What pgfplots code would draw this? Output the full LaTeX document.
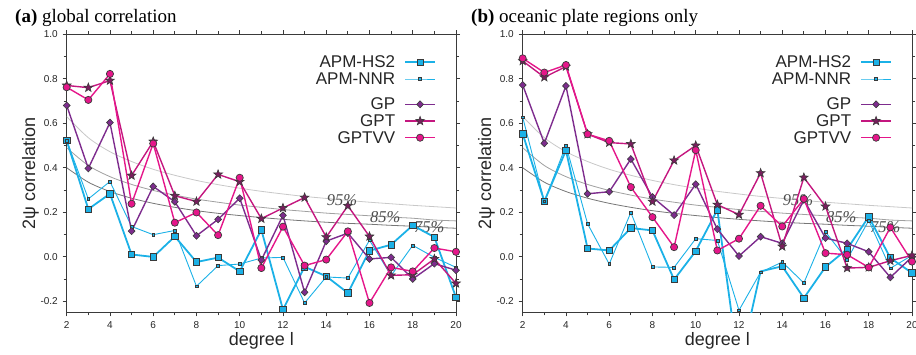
\documentclass[border=0pt]{standalone}
\usepackage{fontspec}
\setmainfont{Liberation Sans}
\newfontfamily\serif{Liberation Serif}
\usepackage{pgfplots}
\pgfplotsset{compat=1.18}
\usetikzlibrary{plotmarks}

\definecolor{cy}{HTML}{1BB1E7}
\definecolor{gpc}{HTML}{7E2C8E}
\definecolor{gptc}{HTML}{C4177F}
\definecolor{gptf}{HTML}{7A1D5E}
\definecolor{vvc}{HTML}{E5168A}
\definecolor{edge}{HTML}{3A3A3A}
\definecolor{g95}{HTML}{C8C8C8}
\definecolor{g85}{HTML}{A0A0A0}
\definecolor{g75}{HTML}{767676}

\pgfdeclareplotmark{fstar}{%
  \pgfpathmoveto{\pgfpointpolar{90}{\pgfplotmarksize}}%
  \pgfpathlineto{\pgfpointpolar{126}{0.42\pgfplotmarksize}}%
  \pgfpathlineto{\pgfpointpolar{162}{\pgfplotmarksize}}%
  \pgfpathlineto{\pgfpointpolar{198}{0.42\pgfplotmarksize}}%
  \pgfpathlineto{\pgfpointpolar{234}{\pgfplotmarksize}}%
  \pgfpathlineto{\pgfpointpolar{270}{0.42\pgfplotmarksize}}%
  \pgfpathlineto{\pgfpointpolar{306}{\pgfplotmarksize}}%
  \pgfpathlineto{\pgfpointpolar{342}{0.42\pgfplotmarksize}}%
  \pgfpathlineto{\pgfpointpolar{18}{\pgfplotmarksize}}%
  \pgfpathlineto{\pgfpointpolar{54}{0.42\pgfplotmarksize}}%
  \pgfpathclose
  \pgfusepathqfillstroke}

\tikzset{pct/.style={font=\serif\itshape\fontsize{16.5}{18}\selectfont, text=black!70}}

\pgfplotsset{
  panel/.style={
    scale only axis, width=389.3pt, height=278pt, anchor=south west,
    xmin=2, xmax=20, ymin=-0.25, ymax=1.0,
    xtick={2,4,...,20}, xticklabels={2,4,6,8,10,12,14,16,18,20},
    minor xtick={3,5,...,19},
    ytick={-0.2,0,0.2,0.4,0.6,0.8,1.0},
    yticklabels={-0.2,0.0,0.2,0.4,0.6,0.8,1.0},
    minor ytick={-0.1,0.1,0.3,0.5,0.7,0.9},
    tick align=outside, major tick length=4pt, minor tick length=3pt,
    tick style={edge, line width=0.8pt},
    axis line style={edge, line width=1pt},
    ticklabel style={font=\fontsize{10}{12}\selectfont, text=black!85},
    xticklabel style={anchor=north, inner sep=0pt, yshift=-5.4pt},
    yticklabel style={anchor=east, inner sep=0pt, xshift=-4.7pt},
    xlabel={degree l}, ylabel={2ψ correlation},
    label style={font=\fontsize{18}{20}\selectfont, text=black!85},
    xlabel style={at={(axis description cs:0.5,-0.121)}, anchor=base},
    ylabel style={at={(axis description cs:-0.0814,0.5)}, anchor=base},
    legend plot pos=right, legend cell align=right,
    legend style={at={(axis description cs:0.9486,0.9293)}, anchor=north east,
      draw=none, fill=none, inner sep=0pt, outer sep=0pt,
      font=\fontsize{17}{20}\selectfont, column sep=9pt, row sep=0pt,
      nodes={inner sep=0pt, text height=14pt, text depth=2.7pt, text=black!85}},
    legend image code/.code={\draw[mark repeat=2,mark phase=2,##1] plot coordinates {(0pt,0pt) (15pt,0pt) (30pt,0pt)};},
  },
  hs2/.style={cy, line width=1.8pt, mark=square*, mark size=3.2pt, mark options={draw=edge, fill=cy, line width=0.7pt}},
  nnr/.style={cy, line width=0.9pt, mark=square*, mark size=1.4pt, mark options={draw=edge, fill=cy, line width=0.5pt}},
  gp/.style={gpc, line width=1.4pt, mark=diamond*, mark size=3.5pt, mark options={draw=edge, fill=gpc, line width=0.6pt, xscale=1.3}},
  gpt/.style={gptc, line width=1.4pt, mark=fstar, mark size=4.6pt, mark options={draw=edge, fill=gptf, line width=0.6pt}},
  vv/.style={vvc, line width=1.4pt, mark=*, mark size=3.6pt, mark options={draw=edge, fill=vvc, line width=0.7pt}},
}

\newcommand{\sigcurves}{%
  \addplot[forget plot, smooth, g95, line width=0.8pt] coordinates {(2,0.630)(3,0.535)(4,0.472)(5,0.428)(6,0.393)(7,0.366)(8,0.343)(9,0.324)(10,0.308)(11,0.294)(12,0.282)(13,0.271)(14,0.262)(15,0.253)(16,0.245)(17,0.238)(18,0.231)(19,0.225)(20,0.219)};
  \addplot[forget plot, smooth, g85, line width=0.8pt] coordinates {(2,0.490)(3,0.410)(4,0.360)(5,0.325)(6,0.298)(7,0.277)(8,0.259)(9,0.245)(10,0.232)(11,0.222)(12,0.212)(13,0.204)(14,0.196)(15,0.190)(16,0.184)(17,0.178)(18,0.173)(19,0.165)(20,0.161)};
  \addplot[forget plot, smooth, g75, line width=0.8pt] coordinates {(2,0.400)(3,0.335)(4,0.293)(5,0.263)(6,0.240)(7,0.222)(8,0.207)(9,0.195)(10,0.185)(11,0.176)(12,0.168)(13,0.161)(14,0.155)(15,0.150)(16,0.146)(17,0.141)(18,0.137)(19,0.132)(20,0.128)};
  \node[pct] at (axis cs:14.73,0.256) {95\%};
  \node[pct] at (axis cs:16.73,0.178) {85\%};
  \node[pct] at (axis cs:18.76,0.133) {75\%};
}

\begin{document}
\begin{tikzpicture}
\useasboundingbox (0pt,0pt) rectangle (916pt,354pt);
\node[anchor=base west, font=\serif\fontsize{19}{21}\selectfont] at (11.7pt,331.3pt) {\textbf{(a)} global correlation};
\node[anchor=base west, font=\serif\fontsize{19}{21}\selectfont] at (467.7pt,331.3pt) {\textbf{(b)} oceanic plate regions only};

\begin{axis}[panel, at={(66.7pt,41.7pt)}]
\sigcurves
\addplot[hs2] coordinates {(2,0.522)(3,0.214)(4,0.283)(5,0.010)(6,-0.001)(7,0.091)(8,-0.024)(9,-0.004)(10,-0.066)(11,0.121)(12,-0.238)(13,-0.045)(14,-0.088)(15,-0.163)(16,0.027)(17,0.054)(18,0.141)(19,0.088)(20,-0.183)};
\addlegendentry{APM-HS2}
\addplot[nnr] coordinates {(2,0.522)(3,0.260)(4,0.338)(5,0.136)(6,0.099)(7,0.118)(8,-0.133)(9,-0.040)(10,-0.033)(11,-0.006)(12,-0.003)(13,-0.208)(14,-0.091)(15,-0.096)(16,0.074)(17,-0.085)(18,0.051)(19,-0.003)(20,-0.048)};
\addlegendentry{APM-NNR}
\addlegendimage{empty legend}
\addlegendentry[text height=4.3pt, text depth=4.3pt]{}
\addplot[gp] coordinates {(2,0.680)(3,0.397)(4,0.603)(5,0.115)(6,0.316)(7,0.247)(8,0.094)(9,0.168)(10,0.263)(11,-0.015)(12,0.186)(13,-0.160)(14,0.070)(15,0.106)(16,-0.010)(17,-0.003)(18,-0.100)(19,-0.031)(20,-0.061)};
\addlegendentry{GP}
\addplot[gpt] coordinates {(2,0.770)(3,0.760)(4,0.792)(5,0.365)(6,0.518)(7,0.274)(8,0.248)(9,0.370)(10,0.337)(11,0.171)(12,0.219)(13,0.266)(14,0.088)(15,0.229)(16,0.091)(17,-0.084)(18,-0.081)(19,-0.010)(20,-0.120)};
\addlegendentry{GPT}
\addplot[vv] coordinates {(2,0.762)(3,0.705)(4,0.822)(5,0.238)(6,0.509)(7,0.153)(8,0.199)(9,0.097)(10,0.355)(11,-0.051)(12,0.135)(13,-0.040)(14,-0.013)(15,0.114)(16,-0.208)(17,-0.048)(18,-0.066)(19,0.039)(20,0.022)};
\addlegendentry{GPTVV}
\end{axis}

\begin{axis}[panel, at={(522.7pt,41.7pt)}]
\sigcurves
\addplot[hs2, forget plot, mark indices={1,2,3,4,5,6,7,8,9,10,12,13,14,15,16,17,18,19}] coordinates {(2,0.552)(3,0.249)(4,0.478)(5,0.037)(6,0.028)(7,0.129)(8,0.118)(9,-0.103)(10,0.025)(11,0.211)(12,-0.500)(13,-0.066)(14,-0.043)(15,-0.186)(16,-0.046)(17,0.034)(18,0.180)(19,-0.006)(20,-0.073)};
\addlegendimage{hs2}
\addlegendentry{APM-HS2}
\addplot[nnr] coordinates {(2,0.627)(3,0.249)(4,0.500)(5,0.148)(6,-0.033)(7,0.199)(8,-0.046)(9,-0.048)(10,0.081)(11,0.073)(12,-0.241)(13,-0.070)(14,-0.024)(15,-0.118)(16,0.111)(17,-0.013)(18,0.163)(19,-0.052)(20,0.006)};
\addlegendentry{APM-NNR}
\addlegendimage{empty legend}
\addlegendentry[text height=4.3pt, text depth=4.3pt]{}
\addplot[gp] coordinates {(2,0.772)(3,0.510)(4,0.768)(5,0.283)(6,0.292)(7,0.439)(8,0.268)(9,0.187)(10,0.326)(11,0.124)(12,0.003)(13,0.090)(14,0.060)(15,0.256)(16,0.084)(17,0.060)(18,0.022)(19,-0.093)(20,-0.001)};
\addlegendentry{GP}
\addplot[gpt] coordinates {(2,0.880)(3,0.807)(4,0.855)(5,0.551)(6,0.513)(7,0.507)(8,0.248)(9,0.433)(10,0.500)(11,0.234)(12,0.189)(13,0.376)(14,0.046)(15,0.356)(16,0.226)(17,-0.051)(18,-0.048)(19,-0.018)(20,0.006)};
\addlegendentry{GPT}
\addplot[vv] coordinates {(2,0.892)(3,0.828)(4,0.862)(5,0.551)(6,0.521)(7,0.313)(8,0.178)(9,0.043)(10,0.479)(11,0.028)(12,0.081)(13,0.229)(14,0.136)(15,0.260)(16,0.016)(17,0.009)(18,-0.048)(19,0.132)(20,-0.022)};
\addlegendentry{GPTVV}
\end{axis}
\end{tikzpicture}
\end{document}
